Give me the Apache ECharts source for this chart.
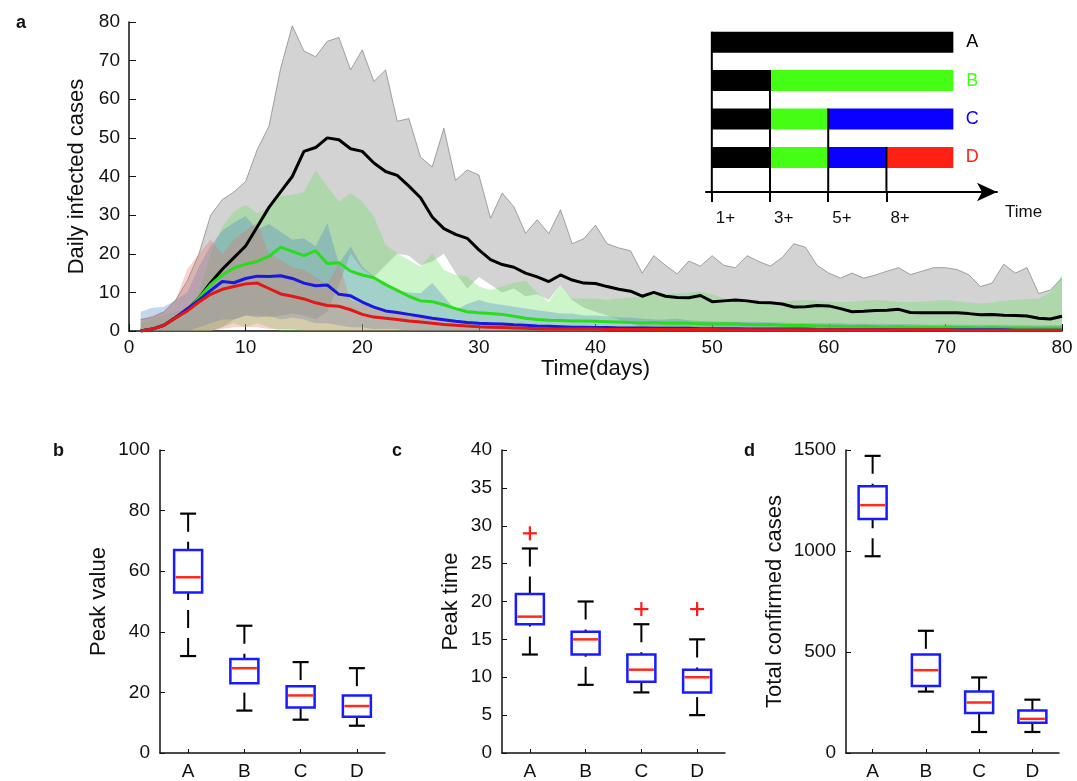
<!DOCTYPE html>
<html><head><meta charset="utf-8">
<script src="https://cdn.jsdelivr.net/npm/echarts@6/dist/echarts.min.js"></script>
<style>html,body{margin:0;padding:0;background:#fff}#c{width:1077px;height:781px}</style>
</head><body><div id="c"></div>
<script>
// ---------- Panel a data (days 1..80) ----------
const days = Array.from({length: 80}, (_, i) => i + 1);
const meanA = [0,0.5,1.5,3.5,5.5,8.5,12.5,16,19,22, 27,32,36,40,46.5,47.5,50,49.5,47.2,46.5, 43.5,41.3,40.3,37.5,34.5,29.5,26.5,25,24,21, 18.5,17.2,16.5,15,14,12.8,14.5,13.2,12.4,12.3, 11.5,10.8,10.3,9,10,9,8.7,8.6,9.2,7.6, 7.8,8,7.8,7.4,7.3,7,6.2,6.3,6.6,6.5, 5.8,5,5.1,5.3,5.4,5.6,4.8,4.7,4.7,4.7, 4.7,4.5,4.2,4.3,4.1,4,3.9,3.3,3.1,3.8];
const upperA = [3,3.5,5,8,13,20,30,34,36,38.7, 47,53,68,79,72.5,71,75,76,67.6,72.8, 64.6,67.6,54.3,55,45,42.5,52.5,39,41.7,40.4, 29.2,35.7,32.2,25.3,28.8,25.2,31.4,22.6,23.9,27.4, 22.6,21.5,20.8,15,19.5,17,14.8,18.1,16.8,19.5, 17,16.4,19.5,18,16.8,19,22.6,21.7,17,15, 13.7,15,13.7,14.5,15.5,16.4,14.6,15.5,16.4,16.4, 15.9,14.6,11.5,12.4,17.3,15,16.4,9.7,10.6,13.7];
const lowerA = [0,0,0,0,0,0,0,1,3,4, 4,3.5,4,4.5,4,3,5,12,20,16, 14,17,20,19.5,17,18,20,15,11,14, 12,10,11,9,9.5,8,12,8,6,5, 4,3,2,1,0,0,0,0,0,0, 0,0,0,0,0,0,0,0,0,0, 0,0,0,0,0,0,0,0,0,0, 0,0,0,0,0,0,0,0,0,0];
const meanB = [0,0.5,1.5,3.5,5.5,8.5,12,14.5,16.3,17.3, 18,19.3,21.7,20.6,19.5,20.8,17.5,17.7,15.5,14.5, 13.8,12,10.5,9,7.8,7.6,6.8,5.8,5,4.7, 4.5,4.3,3.8,3.3,3,2.8,2.7,2.6,2.6,2.5, 2.4,2.3,2.2,2.1,2.2,2,2.1,2,1.9,1.8, 1.9,1.8,1.7,1.6,1.7,1.5,1.4,1.4,1.3,1.2, 1.2,1.1,1.2,1.1,1,1.1,1,1,0.9,1, 0.9,0.9,0.8,0.9,0.8,0.8,0.8,0.7,0.8,0.8];
const upperB = [2,3,4,5,6,10,20,27,31,32.7, 30.5,32,35,35.2,36,41.7,37.4,33.5,35.7,33.5, 29.6,22.3,20.1,18.4,16.7,20.1,15.8,14.5,14.1,11.5, 10.6,11.5,12.5,13,10,7.5,12,8.4,8.4,8.4, 8,8.4,8.6,9,9.3,9.5,9.8,10,10.2,9.5, 8.5,8,8,7.8,7.5,7.6,7.8,8,7.8,7.6, 7.5,7.6,7.8,8,7.8,7.6,7.5,7.6,7.8,8, 7.7,7.4,7.1,7.4,7.8,8,8.2,8.4,10,14.6];
const lowerB = [0,0,0,0,0,0,0,1,2,1, 2,1,0,0,0,0,0,0,0,0, 0,0,0,0,0,0,0,0,0,0, 0,0,0,0,0,0,0,0,0,0, 0,0,0,0,0,0,0,0,0,0, 0,0,0,0,0,0,0,0,0,0, 0,0,0,0,0,0,0,0,0,0, 0,0,0,0,0,0,0,0,0,0];
const meanC = [0,0.5,1.5,3.5,5.8,8,10.5,12.8,12.5,13.6, 14.2,14.1,14.3,13.6,12.4,11.7,11.9,9.5,9.1,7.5, 6.2,5.2,4.8,4.3,3.8,3.3,2.9,2.5,2.2,2, 1.9,1.8,1.6,1.5,1.3,1.2,1.1,1,1,0.9, 0.9,0.8,0.8,0.8,0.7,0.7,0.7,0.7,0.6,0.6, 0.6,0.6,0.5,0.5,0.5,0.5,0.5,0.5,0.4,0.4, 0.4,0.4,0.4,0.4,0.4,0.3,0.3,0.3,0.3,0.3, 0.3,0.3,0.3,0.3,0.3,0.2,0.2,0.2,0.2,0.2];
const upperC = [5,6,6.3,8,10,16.7,22,26,28,29.8, 26.2,27.7,25.7,23.6,24,21.9,27.9,17.5,21.9,16.7, 14.1,11.5,10.6,10,9.8,12.4,8.9,5.4,7,8, 7.2,6.8,6.3,5.8,5.4,5,4.5,4.5,4,4, 3.8,3.5,3.5,3.2,3,3,3.2,2.8,2.6,2.5, 2.4,2.4,2.3,2.3,2.2,2.2,2.1,2.1,2,2, 2,1.9,1.9,1.9,1.8,1.8,1.8,1.7,1.7,1.7, 1.7,1.6,1.6,1.6,1.6,1.5,1.5,1.5,1.5,1.5];
const lowerC = [0,0,0,0,0,1,2,3,3,4, 3.5,4,3,3.5,3,2,2,1.5,1,1, 0.5,0.5,0.5,0,0,0,0,0,0,0, 0,0,0,0,0,0,0,0,0,0, 0,0,0,0,0,0,0,0,0,0, 0,0,0,0,0,0,0,0,0,0, 0,0,0,0,0,0,0,0,0,0, 0,0,0,0,0,0,0,0,0,0];
const meanD = [0,0.5,1.5,3.4,5.2,7.5,9.5,10.8,11.5,12.2, 12.4,11,9.6,9,8.3,7.3,6.6,6.4,5.5,4.3, 3.6,3.3,3,2.6,2.3,2,1.7,1.5,1.3,1.1, 1,0.9,0.8,0.7,0.6,0.5,0.5,0.5,0.5,0.5, 0.4,0.4,0.4,0.4,0.4,0.4,0.4,0.4,0.4,0.4, 0.3,0.3,0.3,0.3,0.3,0.3,0.3,0.3,0.3,0.3, 0.3,0.3,0.3,0.3,0.3,0.3,0.3,0.3,0.3,0.3, 0.2,0.2,0.2,0.2,0.2,0.2,0.2,0.2,0.2,0.2];
const upperD = [3,4,5,8,16,20,23.6,20,23.6,26, 28,20,18.4,16.5,15.8,14,12,17.5,8,7, 6.3,5.5,5,4.6,4,3.5,3,2.7,2.3,2, 1.9,1.8,1.7,1.6,1.5,1.5,1.4,1.4,1.3,1.3, 1.3,1.2,1.2,1.2,1.2,1.1,1.1,1.1,1.1,1.1, 1,1,1,1,1,1,1,1,1,1, 1,1,1,1,1,1,1,1,1,1, 1,1,1,1,1,1,1,1,1,1];
const lowerD = [0,0,0,0,0,0,0,0.5,1,1, 1,0.5,0.5,0.5,0,0,0,0,0,0, 0,0,0,0,0,0,0,0,0,0, 0,0,0,0,0,0,0,0,0,0, 0,0,0,0,0,0,0,0,0,0, 0,0,0,0,0,0,0,0,0,0, 0,0,0,0,0,0,0,0,0,0, 0,0,0,0,0,0,0,0,0,0];

// ---------- Inset schematic ----------
const schemes = ['A','B','C','D'];
const stageLabels = ['1+','3+','5+','8+'];
const stageStarts = [0,1,2,3];
const insetEnd = 4.15;
// [row, start, end, stage]
const insetSegments = [
  [0,0,4.15,0],
  [1,0,1,0],[1,1,4.15,1],
  [2,0,1,0],[2,1,2,1],[2,2,4.15,2],
  [3,0,1,0],[3,1,2,1],[3,2,3,2],[3,3,4.15,3]
];

// ---------- Box plots: [category, whiskerLow, Q1, median, Q3, whiskerHigh] ----------
const boxCats = ['A','B','C','D'];
const peakValue = [[0,32,53,58,67,79],[1,14,23,28,31,42],[2,11,15,19,22,30],[3,9,12,15.5,19,28]];
const peakTime = [[0,13,17,18,21,27],[1,9,13,15,16,20],[2,8,9.4,11,13,17],[3,5,8,10,11,15]];
const peakTimeOutliers = [[0,29],[2,19],[3,19]];
const totalCases = [[0,974,1158,1227,1321,1471],[1,304,332,410,488,605],[2,104,198,250,304,374],[3,104,150,169,211,264]];

// ---------- styles ----------
const FONT = 'Liberation Sans, Arial, Helvetica, sans-serif';
const stageColors = ['#000000','#44ff14','#0a00ff','#ff2214'];
const bandDefs = [
  {up: upperA, lo: lowerA, fill: 'rgba(150,150,150,0.42)', edge: 'rgba(110,110,110,0.75)'},
  {up: upperB, lo: lowerB, fill: 'rgba(100,225,90,0.32)'},
  {up: upperC, lo: lowerC, fill: 'rgba(60,125,195,0.3)'},
  {up: upperD, lo: lowerD, fill: 'rgba(230,110,100,0.3)'}
];

function pairs(arr){ return days.map((d,i)=>[d, arr[i]]); }
function renderBand(params, api){
  const b = bandDefs[params.dataIndex];
  const top = days.map((d,i)=>api.coord([d, b.up[i]]));
  const bot = days.map((d,i)=>api.coord([d, b.lo[i]])).reverse();
  const children = [{type:'polygon', shape:{points: top.concat(bot)}, style:{fill: b.fill}}];
  if (b.edge) children.push({type:'polyline', shape:{points: top}, style:{stroke: b.edge, lineWidth: 0.8, fill: null}});
  return {type:'group', children};
}
function meanSeries(arr, color, z){
  return {type:'line', xAxisIndex:0, yAxisIndex:0, data:pairs(arr), symbol:'none',
    lineStyle:{color:color, width:3}, z:z, silent:true};
}

function renderBox(params, api){
  const i = api.value(0);
  const pLo = api.coord([i, api.value(1)]);
  const pQ1 = api.coord([i, api.value(2)]);
  const pMd = api.coord([i, api.value(3)]);
  const pQ3 = api.coord([i, api.value(4)]);
  const pHi = api.coord([i, api.value(5)]);
  const x = pMd[0], bw = 28, cw = 16, dash = [18, 10];
  return {type:'group', children:[
    {type:'line', shape:{x1:x,y1:pHi[1],x2:x,y2:pQ3[1]}, style:{stroke:'#000',lineWidth:2,lineDash:dash}},
    {type:'line', shape:{x1:x,y1:pLo[1],x2:x,y2:pQ1[1]}, style:{stroke:'#000',lineWidth:2,lineDash:dash}},
    {type:'line', shape:{x1:x-cw/2,y1:pHi[1],x2:x+cw/2,y2:pHi[1]}, style:{stroke:'#000',lineWidth:2.2}},
    {type:'line', shape:{x1:x-cw/2,y1:pLo[1],x2:x+cw/2,y2:pLo[1]}, style:{stroke:'#000',lineWidth:2.2}},
    {type:'rect', shape:{x:x-bw/2,y:pQ3[1],width:bw,height:pQ1[1]-pQ3[1]}, style:{fill:'#fff',stroke:'#1a1aff',lineWidth:2.5}},
    {type:'line', shape:{x1:x-bw/2+1.5,y1:pMd[1],x2:x+bw/2-1.5,y2:pMd[1]}, style:{stroke:'#ff2a1a',lineWidth:2.5}}
  ]};
}
function renderPlus(params, api){
  const p = api.coord([api.value(0), api.value(1)]);
  const s = 7;
  return {type:'group', children:[
    {type:'line', shape:{x1:p[0]-s,y1:p[1],x2:p[0]+s,y2:p[1]}, style:{stroke:'#ff1a1a',lineWidth:2.2}},
    {type:'line', shape:{x1:p[0],y1:p[1]-s,x2:p[0],y2:p[1]+s}, style:{stroke:'#ff1a1a',lineWidth:2.2}}
  ]};
}
const BAR_H = 21;
function renderSeg(params, api){
  const row = api.value(0);
  const p1 = api.coord([api.value(1), row]);
  const p2 = api.coord([api.value(2), row]);
  return {type:'rect', shape:{x:p1[0], y:p1[1]-BAR_H/2, width:p2[0]-p1[0], height:BAR_H},
    style:{fill: stageColors[api.value(3)]}};
}
function renderStageLine(params, api){
  const x = api.value(0), row = api.value(1);
  const pTop = api.coord([x, row]);
  const pBot = api.coord([x, 3.9]);
  return {type:'line', shape:{x1:pTop[0], y1:pTop[1]-BAR_H/2, x2:pTop[0], y2:pBot[1]},
    style:{stroke:'#000', lineWidth:2}};
}
function renderRowLabel(params, api){
  const p = api.coord([api.value(0), api.value(1)]);
  return {type:'text', x:p[0]+19, y:p[1], style:{text: schemes[params.dataIndex], fill: stageColors[params.dataIndex],
    font: '18px ' + FONT, verticalAlign:'middle', align:'center'}};
}

const axisBlack = {show:true, lineStyle:{color:'#111', width:1.5}};
function boxX(gridIndex){
  return {type:'category', gridIndex, data: boxCats, boundaryGap:true,
    axisLine: axisBlack, axisTick:{show:true, inside:true, alignWithLabel:true, length:4, lineStyle:{color:'#111'}},
    axisLabel:{fontSize:19, color:'#111', margin:9, fontFamily:FONT}, splitLine:{show:false}};
}
function boxY(gridIndex, max, interval, name, gap){
  return {type:'value', gridIndex, min:0, max, interval, name, nameLocation:'middle', nameGap:gap,
    nameTextStyle:{fontSize:22, color:'#111', fontFamily:FONT},
    axisLine: axisBlack, axisTick:{show:true, inside:true, length:5, lineStyle:{color:'#111'}},
    axisLabel:{fontSize:19, color:'#111', margin:10, fontFamily:FONT, formatter:(v)=>String(v)}, splitLine:{show:false}};
}

const option = {
  animation:false,
  backgroundColor:'#fff',
  textStyle:{fontFamily:FONT},
  title:[
    {text:'a', left:11, top:9, textStyle:{fontSize:18, fontWeight:'bold', color:'#111'}},
    {text:'b', left:48, top:437, textStyle:{fontSize:18, fontWeight:'bold', color:'#111'}},
    {text:'c', left:387, top:437, textStyle:{fontSize:18, fontWeight:'bold', color:'#111'}},
    {text:'d', left:739, top:437, textStyle:{fontSize:18, fontWeight:'bold', color:'#111'}}
  ],
  grid:[
    {left:129, top:22, width:933, height:309},
    {left:706, top:23, width:291, height:169},
    {left:160, top:450, width:225, height:307},
    {left:502, top:450, width:223, height:307},
    {left:846, top:450, width:213, height:307}
  ],
  xAxis:[
    {type:'value', gridIndex:0, min:0, max:80, interval:10, name:'Time(days)', nameLocation:'middle', nameGap:26,
     nameTextStyle:{fontSize:22, color:'#111'}, axisLine:axisBlack,
     axisTick:{show:true, inside:true, length:7, lineStyle:{color:'#111'}},
     axisLabel:{fontSize:19, color:'#111', margin:7}, splitLine:{show:false}},
    {type:'value', gridIndex:1, min:-0.1, max:4.9, position:'bottom',
     axisLine:{show:true, onZero:false, symbol:['none','arrow'], symbolSize:[14,20], lineStyle:{color:'#000', width:2}},
     axisTick:{show:true, customValues:stageStarts, length:10, lineStyle:{color:'#000', width:2}},
     axisLabel:{customValues:stageStarts, formatter:(v)=>stageLabels[Math.round(v)], align:'left', margin:18,
       fontSize:17, color:'#111', padding:[0,0,0,4]},
     name:'Time', nameLocation:'end', nameGap:8,
     nameTextStyle:{fontSize:17, color:'#111', verticalAlign:'top', padding:[12,0,0,0]},
     splitLine:{show:false}},
    boxX(2), boxX(3), boxX(4)
  ],
  yAxis:[
    {type:'value', gridIndex:0, min:0, max:80, interval:10, name:'Daily infected cases', nameLocation:'middle', nameGap:34,
     nameTextStyle:{fontSize:22, color:'#111'}, axisLine:axisBlack,
     axisTick:{show:true, inside:true, length:7, lineStyle:{color:'#111'}},
     axisLabel:{fontSize:19, color:'#111', margin:9}, splitLine:{show:false}},
    {type:'value', gridIndex:1, min:-0.5, max:3.9, inverse:true, show:false},
    boxY(2, 100, 20, 'Peak value', 50),
    boxY(3, 40, 5, 'Peak time', 40),
    boxY(4, 1500, 500, 'Total confirmed cases', 60)
  ],
  series:[
    {type:'custom', xAxisIndex:0, yAxisIndex:0, data:[[1,0],[1,0],[1,0],[1,0]], renderItem:renderBand, z:1, silent:true},
    meanSeries(meanA, '#000000', 5),
    meanSeries(meanB, '#2bdc1e', 6),
    meanSeries(meanC, '#1818e0', 7),
    meanSeries(meanD, '#e01818', 8),
    {type:'custom', xAxisIndex:1, yAxisIndex:1, data:insetSegments, renderItem:renderSeg, z:10, silent:true},
    {type:'custom', xAxisIndex:1, yAxisIndex:1, data:stageStarts.map((s,i)=>[s,i]), renderItem:renderStageLine, z:11, silent:true},
    {type:'custom', xAxisIndex:1, yAxisIndex:1, data:schemes.map((s,i)=>[insetEnd,i]), renderItem:renderRowLabel, z:11, silent:true},
    {type:'custom', xAxisIndex:2, yAxisIndex:2, data:peakValue, renderItem:renderBox, silent:true},
    {type:'custom', xAxisIndex:3, yAxisIndex:3, data:peakTime, renderItem:renderBox, silent:true},
    {type:'custom', xAxisIndex:3, yAxisIndex:3, data:peakTimeOutliers, renderItem:renderPlus, silent:true},
    {type:'custom', xAxisIndex:4, yAxisIndex:4, data:totalCases, renderItem:renderBox, silent:true}
  ]
};
const chart = echarts.init(document.getElementById('c'));
chart.setOption(option);
</script></body></html>
